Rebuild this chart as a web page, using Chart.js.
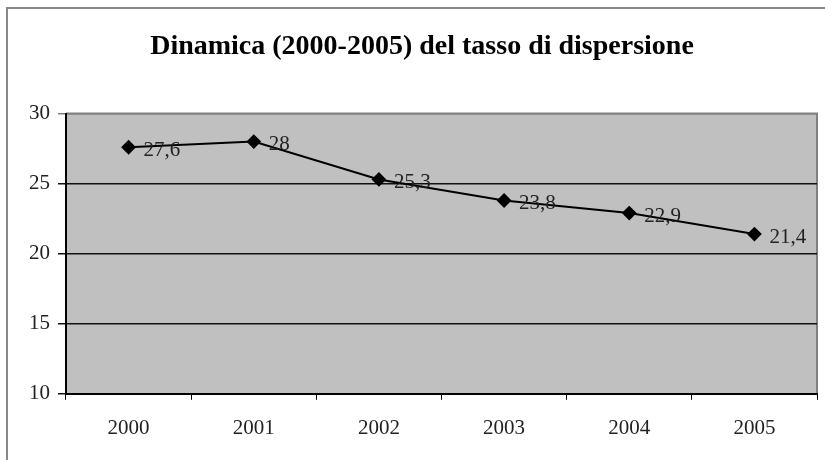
<!DOCTYPE html>
<html lang="it">
<head>
    <meta charset="UTF-8">
    <title>Dinamica del tasso di dispersione</title>
    <script src="https://cdn.jsdelivr.net/npm/chart.js"></script>
    <style>
        body {
            margin: 0;
            padding: 0;
            background: #fff;
        }
        .wrap {
            width: 825px;
            height: 460px;
        }
    </style>
</head>
<body>
    <div class="wrap">
        <canvas id="chart" width="825" height="460"></canvas>
    </div>

    <script>
        const years = ["2000", "2001", "2002", "2003", "2004", "2005"];
        const dispersione = [27.6, 28, 25.3, 23.8, 22.9, 21.4];
        const yTicks = [10, 15, 20, 25, 30];

        const serif = "'Liberation Serif', 'DejaVu Serif', serif";

        // grey plot background + outer frame
        const backdrop = {
            id: 'backdrop',
            beforeDraw(chart) {
                const { ctx, chartArea: a } = chart;
                ctx.save();
                ctx.strokeStyle = '#888';
                ctx.lineWidth = 2;
                ctx.beginPath();
                ctx.moveTo(7, 460);
                ctx.lineTo(7, 8);
                ctx.lineTo(825, 8);
                ctx.stroke();
                ctx.fillStyle = '#c0c0c0';
                ctx.fillRect(a.left, a.top, a.right - a.left, a.bottom - a.top);
                ctx.strokeStyle = '#808080';
                ctx.beginPath();
                ctx.moveTo(a.left, a.top);
                ctx.lineTo(a.right, a.top);
                ctx.lineTo(a.right, a.bottom);
                ctx.stroke();
                ctx.restore();
            }
        };

        // value labels to the right of each point
        const valueLabels = {
            id: 'valueLabels',
            afterDatasetsDraw(chart) {
                const { ctx } = chart;
                const meta = chart.getDatasetMeta(0);
                ctx.save();
                ctx.font = '21px ' + serif;
                ctx.fillStyle = '#222';
                ctx.textAlign = 'left';
                ctx.textBaseline = 'middle';
                meta.data.forEach((pt, i) => {
                    const txt = String(dispersione[i]).replace('.', ',');
                    ctx.fillText(txt, pt.x + 15, pt.y + 3);
                });
                ctx.restore();
            }
        };

        new Chart(document.getElementById('chart'), {
            type: 'line',
            data: {
                labels: years,
                datasets: [{
                    data: dispersione,
                    borderColor: '#000',
                    borderWidth: 2,
                    pointStyle: 'rectRot',
                    pointRadius: 6,
                    pointBackgroundColor: '#000',
                    pointBorderColor: '#000',
                    tension: 0
                }]
            },
            options: {
                responsive: false,
                animation: false,
                layout: {
                    padding: { left: 21, right: 2, bottom: 3 }
                },
                plugins: {
                    legend: { display: false },
                    tooltip: { enabled: false },
                    title: {
                        display: true,
                        text: 'Dinamica (2000-2005) del tasso di dispersione',
                        color: '#000',
                        font: { family: serif, size: 28, weight: 'bold' },
                        padding: { top: 30, bottom: 50 }
                    }
                },
                scales: {
                    x: {
                        offset: true,
                        grid: {
                            offset: true,
                            drawOnChartArea: false,
                            color: '#000',
                            tickLength: 6
                        },
                        border: { color: '#000', width: 2 },
                        ticks: {
                            color: '#222',
                            padding: 16,
                            font: { family: serif, size: 21 }
                        }
                    },
                    y: {
                        min: 10,
                        max: 30,
                        afterBuildTicks(axis) {
                            axis.ticks = yTicks.map(v => ({ value: v }));
                        },
                        grid: {
                            color: ctx => (ctx.tick && ctx.tick.value === 30) ? '#808080' : '#111',
                            lineWidth: 1.5,
                            tickLength: 8
                        },
                        border: { color: '#000', width: 2 },
                        ticks: {
                            color: '#222',
                            padding: 8,
                            font: { family: serif, size: 21 }
                        }
                    }
                }
            },
            plugins: [backdrop, valueLabels]
        });
    </script>
</body>
</html>
